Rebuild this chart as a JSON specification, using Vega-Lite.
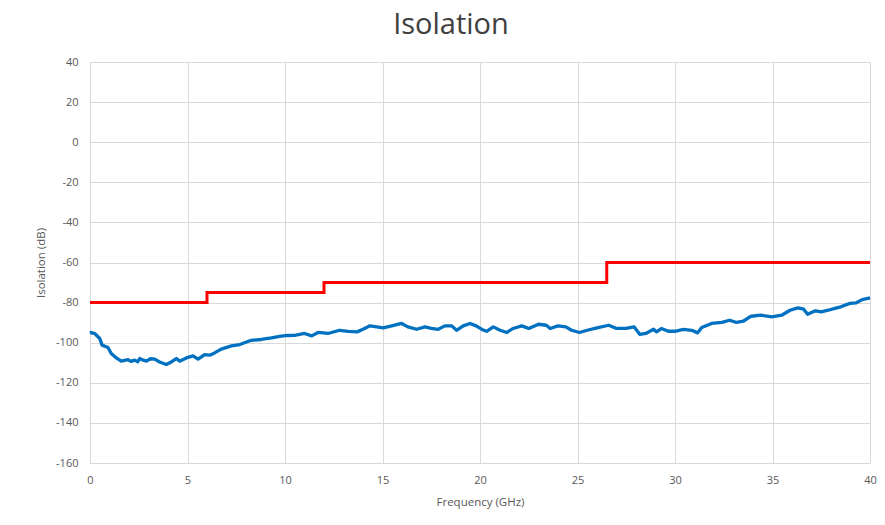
{
  "$schema": "https://vega.github.io/schema/vega-lite/v6.json",
  "autosize": {"type": "none"},
  "width": 780,
  "height": 401,
  "padding": {"left": 90, "top": 62, "right": 15, "bottom": 62},
  "background": "white",
  "title": {
    "text": "Isolation",
    "fontSize": 29,
    "font": "Open Sans",
    "fontWeight": "normal",
    "color": "#404040",
    "anchor": "middle",
    "frame": "group",
    "dx": -29,
    "offset": 16
  },
  "config": {
    "view": {"stroke": null},
    "font": "Open Sans",
    "axis": {
      "gridColor": "#d9d9d9",
      "gridWidth": 1,
      "domain": false,
      "ticks": false,
      "labelColor": "#595959",
      "titleColor": "#595959",
      "labelFontSize": 11,
      "titleFontSize": 11.5,
      "titleFontWeight": "normal",
      "labelFont": "Open Sans",
      "titleFont": "Open Sans",
      "labelExpr": "datum.value < 0 ? '-' + abs(datum.value) : '' + datum.value"
    }
  },
  "data": {
    "values": [
      {"f": 0.0, "v": -95.3, "s": "Measured"},
      {"f": 0.07, "v": -94.9, "s": "Measured"},
      {"f": 0.24, "v": -95.4, "s": "Measured"},
      {"f": 0.5, "v": -97.9, "s": "Measured"},
      {"f": 0.62, "v": -101.2, "s": "Measured"},
      {"f": 0.92, "v": -102.4, "s": "Measured"},
      {"f": 1.09, "v": -105.4, "s": "Measured"},
      {"f": 1.35, "v": -107.6, "s": "Measured"},
      {"f": 1.6, "v": -109.2, "s": "Measured"},
      {"f": 1.95, "v": -108.4, "s": "Measured"},
      {"f": 2.1, "v": -109.3, "s": "Measured"},
      {"f": 2.29, "v": -108.7, "s": "Measured"},
      {"f": 2.45, "v": -109.5, "s": "Measured"},
      {"f": 2.55, "v": -107.9, "s": "Measured"},
      {"f": 2.7, "v": -108.6, "s": "Measured"},
      {"f": 2.89, "v": -109.2, "s": "Measured"},
      {"f": 3.1, "v": -108.0, "s": "Measured"},
      {"f": 3.32, "v": -108.2, "s": "Measured"},
      {"f": 3.57, "v": -109.6, "s": "Measured"},
      {"f": 3.91, "v": -110.9, "s": "Measured"},
      {"f": 4.17, "v": -109.6, "s": "Measured"},
      {"f": 4.43, "v": -107.9, "s": "Measured"},
      {"f": 4.6, "v": -109.2, "s": "Measured"},
      {"f": 4.94, "v": -107.6, "s": "Measured"},
      {"f": 5.28, "v": -106.6, "s": "Measured"},
      {"f": 5.54, "v": -108.2, "s": "Measured"},
      {"f": 5.88, "v": -105.9, "s": "Measured"},
      {"f": 6.14, "v": -106.2, "s": "Measured"},
      {"f": 6.39, "v": -105.1, "s": "Measured"},
      {"f": 6.73, "v": -103.2, "s": "Measured"},
      {"f": 7.25, "v": -101.6, "s": "Measured"},
      {"f": 7.68, "v": -100.9, "s": "Measured"},
      {"f": 8.27, "v": -98.8, "s": "Measured"},
      {"f": 8.78, "v": -98.4, "s": "Measured"},
      {"f": 9.3, "v": -97.6, "s": "Measured"},
      {"f": 9.73, "v": -96.8, "s": "Measured"},
      {"f": 10.1, "v": -96.4, "s": "Measured"},
      {"f": 10.5, "v": -96.3, "s": "Measured"},
      {"f": 11.0, "v": -95.4, "s": "Measured"},
      {"f": 11.37, "v": -96.6, "s": "Measured"},
      {"f": 11.7, "v": -94.9, "s": "Measured"},
      {"f": 12.2, "v": -95.4, "s": "Measured"},
      {"f": 12.8, "v": -93.8, "s": "Measured"},
      {"f": 13.25, "v": -94.3, "s": "Measured"},
      {"f": 13.7, "v": -94.6, "s": "Measured"},
      {"f": 14.0, "v": -93.3, "s": "Measured"},
      {"f": 14.36, "v": -91.6, "s": "Measured"},
      {"f": 14.7, "v": -92.1, "s": "Measured"},
      {"f": 15.04, "v": -92.6, "s": "Measured"},
      {"f": 15.47, "v": -91.6, "s": "Measured"},
      {"f": 15.98, "v": -90.4, "s": "Measured"},
      {"f": 16.3, "v": -92.1, "s": "Measured"},
      {"f": 16.75, "v": -93.3, "s": "Measured"},
      {"f": 17.18, "v": -92.1, "s": "Measured"},
      {"f": 17.5, "v": -92.9, "s": "Measured"},
      {"f": 17.86, "v": -93.3, "s": "Measured"},
      {"f": 18.2, "v": -91.6, "s": "Measured"},
      {"f": 18.55, "v": -91.6, "s": "Measured"},
      {"f": 18.8, "v": -93.8, "s": "Measured"},
      {"f": 19.14, "v": -91.6, "s": "Measured"},
      {"f": 19.49, "v": -90.4, "s": "Measured"},
      {"f": 19.8, "v": -91.6, "s": "Measured"},
      {"f": 20.1, "v": -93.4, "s": "Measured"},
      {"f": 20.34, "v": -94.3, "s": "Measured"},
      {"f": 20.68, "v": -92.1, "s": "Measured"},
      {"f": 21.03, "v": -93.8, "s": "Measured"},
      {"f": 21.37, "v": -94.9, "s": "Measured"},
      {"f": 21.7, "v": -92.9, "s": "Measured"},
      {"f": 22.14, "v": -91.6, "s": "Measured"},
      {"f": 22.5, "v": -92.9, "s": "Measured"},
      {"f": 23.0, "v": -90.8, "s": "Measured"},
      {"f": 23.4, "v": -91.3, "s": "Measured"},
      {"f": 23.6, "v": -92.9, "s": "Measured"},
      {"f": 24.0, "v": -91.6, "s": "Measured"},
      {"f": 24.4, "v": -92.1, "s": "Measured"},
      {"f": 24.7, "v": -93.8, "s": "Measured"},
      {"f": 25.1, "v": -94.9, "s": "Measured"},
      {"f": 25.5, "v": -93.8, "s": "Measured"},
      {"f": 26.0, "v": -92.6, "s": "Measured"},
      {"f": 26.6, "v": -91.3, "s": "Measured"},
      {"f": 27.0, "v": -92.9, "s": "Measured"},
      {"f": 27.5, "v": -92.9, "s": "Measured"},
      {"f": 27.9, "v": -92.1, "s": "Measured"},
      {"f": 28.2, "v": -95.9, "s": "Measured"},
      {"f": 28.5, "v": -95.4, "s": "Measured"},
      {"f": 28.9, "v": -93.3, "s": "Measured"},
      {"f": 29.06, "v": -94.6, "s": "Measured"},
      {"f": 29.3, "v": -92.9, "s": "Measured"},
      {"f": 29.66, "v": -94.3, "s": "Measured"},
      {"f": 30.0, "v": -94.3, "s": "Measured"},
      {"f": 30.43, "v": -93.4, "s": "Measured"},
      {"f": 30.86, "v": -93.8, "s": "Measured"},
      {"f": 31.16, "v": -95.1, "s": "Measured"},
      {"f": 31.37, "v": -92.4, "s": "Measured"},
      {"f": 31.88, "v": -90.4, "s": "Measured"},
      {"f": 32.4, "v": -89.9, "s": "Measured"},
      {"f": 32.8, "v": -88.8, "s": "Measured"},
      {"f": 33.16, "v": -89.9, "s": "Measured"},
      {"f": 33.5, "v": -89.3, "s": "Measured"},
      {"f": 33.9, "v": -86.8, "s": "Measured"},
      {"f": 34.4, "v": -86.3, "s": "Measured"},
      {"f": 34.96, "v": -87.1, "s": "Measured"},
      {"f": 35.47, "v": -86.3, "s": "Measured"},
      {"f": 35.9, "v": -83.8, "s": "Measured"},
      {"f": 36.3, "v": -82.6, "s": "Measured"},
      {"f": 36.6, "v": -83.3, "s": "Measured"},
      {"f": 36.8, "v": -85.8, "s": "Measured"},
      {"f": 37.2, "v": -84.1, "s": "Measured"},
      {"f": 37.5, "v": -84.6, "s": "Measured"},
      {"f": 37.86, "v": -83.8, "s": "Measured"},
      {"f": 38.2, "v": -82.9, "s": "Measured"},
      {"f": 38.5, "v": -82.1, "s": "Measured"},
      {"f": 38.97, "v": -80.4, "s": "Measured"},
      {"f": 39.3, "v": -80.1, "s": "Measured"},
      {"f": 39.6, "v": -78.5, "s": "Measured"},
      {"f": 40.0, "v": -77.7, "s": "Measured"},
      {"f": 0, "v": -80, "s": "Limit"},
      {"f": 6, "v": -75, "s": "Limit"},
      {"f": 12, "v": -70, "s": "Limit"},
      {"f": 26.5, "v": -60, "s": "Limit"},
      {"f": 40, "v": -60, "s": "Limit"}
    ]
  },
  "layer": [
    {
      "transform": [{"filter": "datum.s === 'Limit'"}],
      "mark": {"type": "line", "interpolate": "step-after", "color": "#FF0000", "strokeWidth": 3},
      "encoding": {
        "x": {"field": "f", "type": "quantitative", "scale": {"domain": [0, 40], "nice": false},
              "axis": {"title": "Frequency (GHz)", "values": [0,5,10,15,20,25,30,35,40], "labelFlush": false, "labelPadding": 11, "titlePadding": 11}},
        "y": {"field": "v", "type": "quantitative", "scale": {"domain": [-160, 40], "nice": false},
              "axis": {"title": "Isolation (dB)", "values": [-160,-140,-120,-100,-80,-60,-40,-20,0,20,40], "labelFlush": false, "labelPadding": 12, "titlePadding": 9}}
      }
    },
    {
      "transform": [{"filter": "datum.s === 'Measured'"}],
      "mark": {"type": "line", "color": "#0070C0", "strokeWidth": 3.3, "strokeJoin": "round"},
      "encoding": {
        "x": {"field": "f", "type": "quantitative"},
        "y": {"field": "v", "type": "quantitative"}
      }
    }
  ]
}
